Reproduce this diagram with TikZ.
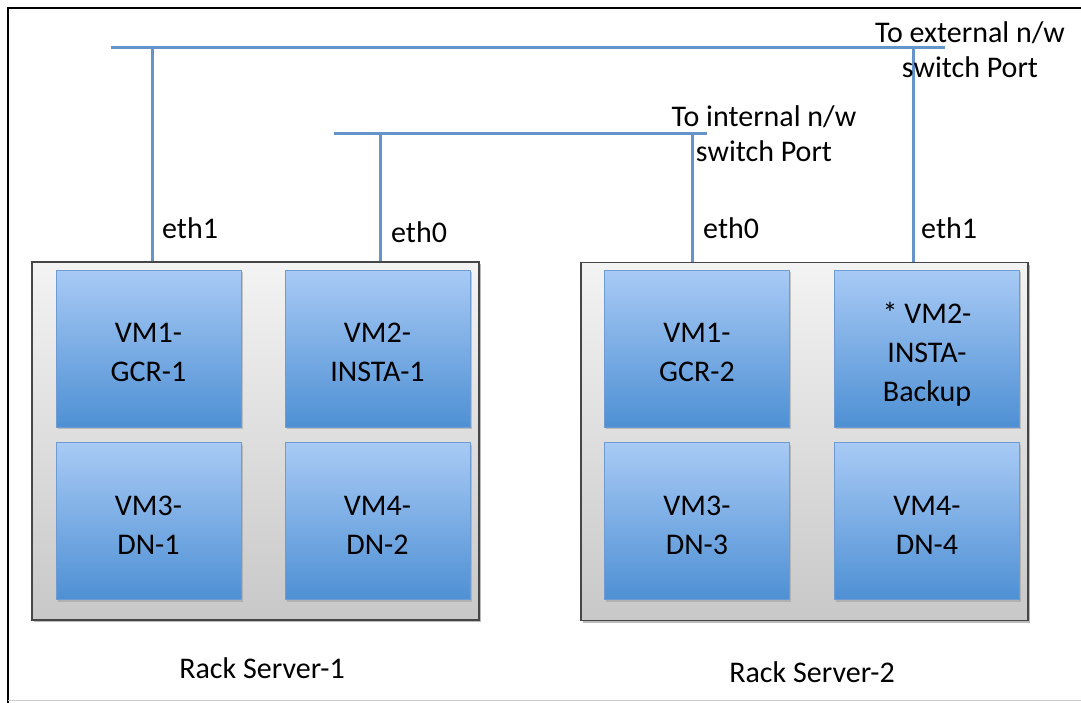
\documentclass[tikz,border=0pt]{standalone}
\usepackage{fontspec}
\setmainfont{Carlito}
\usetikzlibrary{shadows}
\definecolor{wire}{RGB}{100,148,202}
\definecolor{vmtop}{RGB}{168,202,245}
\definecolor{vmbot}{RGB}{78,144,212}
\definecolor{vmedge}{RGB}{110,155,210}
\definecolor{srvtop}{RGB}{243,243,243}
\definecolor{srvbot}{RGB}{200,200,200}
\definecolor{srvedge}{RGB}{70,70,70}
\begin{document}
\begin{tikzpicture}[x=1pt,y=-1pt,
  txt/.style={font=\fontsize{30}{36}\selectfont, inner sep=0pt},
  server/.style={draw=srvedge, line width=1.2pt, top color=srvtop, bottom color=srvbot,
    minimum width=447pt, minimum height=358pt, inner sep=0pt,
    drop shadow={shadow xshift=2pt, shadow yshift=-2pt, fill=black!45, opacity=0.6}},
  vm/.style={draw=vmedge, line width=0.8pt, top color=vmtop, bottom color=vmbot,
    minimum width=185pt, minimum height=157pt, inner sep=0pt, align=center,
    font=\fontsize{30}{39}\selectfont,
    drop shadow={shadow xshift=1.5pt, shadow yshift=-2pt, fill=black!40, opacity=0.5}},
  vmtext/.style={align=center, inner sep=0pt, font=\fontsize{30}{39}\selectfont},
  wire/.style={draw=wire, line width=3pt},
  lbl/.style={txt, anchor=west},
  note/.style={font=\fontsize{30}{35}\selectfont, align=center, inner sep=0pt}
]
\useasboundingbox (0,0) rectangle (1081,702);
% frame
\coordinate (fl) at (8,702);
\coordinate (ftl) at (8,8);
\coordinate (ftr) at (1081,8);
\draw[line width=2.6pt, line cap=rect] (fl) -- (ftl) -- (ftr);
\draw[black!20, line width=1.2pt] (8,700.5) -- (1081,700.5);

% servers
\node[server] (s1) at (255.5,441) {};
\node[server] (s2) at (804.5,441.5) {};

% VMs
\node[vm] (v11) at (148.5,348.5) {};
\node[vm] (v12) at (377.5,348.5) {};
\node[vm] (v13) at (148.5,521) {};
\node[vm] (v14) at (377.5,521) {};
\node[vm] (v21) at (697,348.5) {};
\node[vm] (v22) at (927,348.5) {};
\node[vm] (v23) at (697,521) {};
\node[vm] (v24) at (927,521) {};
\node[vmtext] (t11) at ([yshift=-4pt]v11.center) {VM1-\\GCR-1};
\node[vmtext] (t12) at ([yshift=-4pt]v12.center) {VM2-\\INSTA-1};
\node[vmtext] (t13) at ([yshift=-4pt]v13.center) {VM3-\\DN-1};
\node[vmtext] (t14) at ([yshift=-4pt]v14.center) {VM4-\\DN-2};
\node[vmtext] (t21) at ([yshift=-4pt]v21.center) {VM1-\\GCR-2};
\node[vmtext] (t22) at ([yshift=-6pt]v22.center) {* VM2-\\INSTA-\\Backup};
\node[vmtext] (t23) at ([yshift=-4pt]v23.center) {VM3-\\DN-3};
\node[vmtext] (t24) at ([yshift=-4pt]v24.center) {VM4-\\DN-4};

% buses
\coordinate (extL) at (111,47);
\coordinate (extR) at (945,47);
\coordinate (ext1) at (152,47);
\coordinate (ext2) at (913,47);
\coordinate (intL) at (334,133);
\coordinate (intR) at (707,133);
\coordinate (int1) at (380,133);
\coordinate (int2) at (692,133);
\draw[wire] (extL) -- (extR);
\draw[wire] (intL) -- (intR);
\draw[wire] (ext1) -- (ext1 |- s1.north);
\draw[wire] (int1) -- (int1 |- s1.north);
\draw[wire] (int2) -- (int2 |- s2.north);
\draw[wire] (ext2) -- (ext2 |- s2.north);

% labels
\node[lbl] (l1) at (162,228) {eth1};
\node[lbl] (l2) at (391,232) {eth0};
\node[lbl] (l3) at (703,228) {eth0};
\node[lbl] (l4) at (921,228) {eth1};
\node[note] (nint) at (764,134) {To internal n/w\\switch Port};
\node[note] (next) at (970,50) {To external n/w\\switch Port};
\node[txt] (r1) at (262,668) {Rack Server-1};
\node[txt] (r2) at (812,672) {Rack Server-2};
\end{tikzpicture}
\end{document}
